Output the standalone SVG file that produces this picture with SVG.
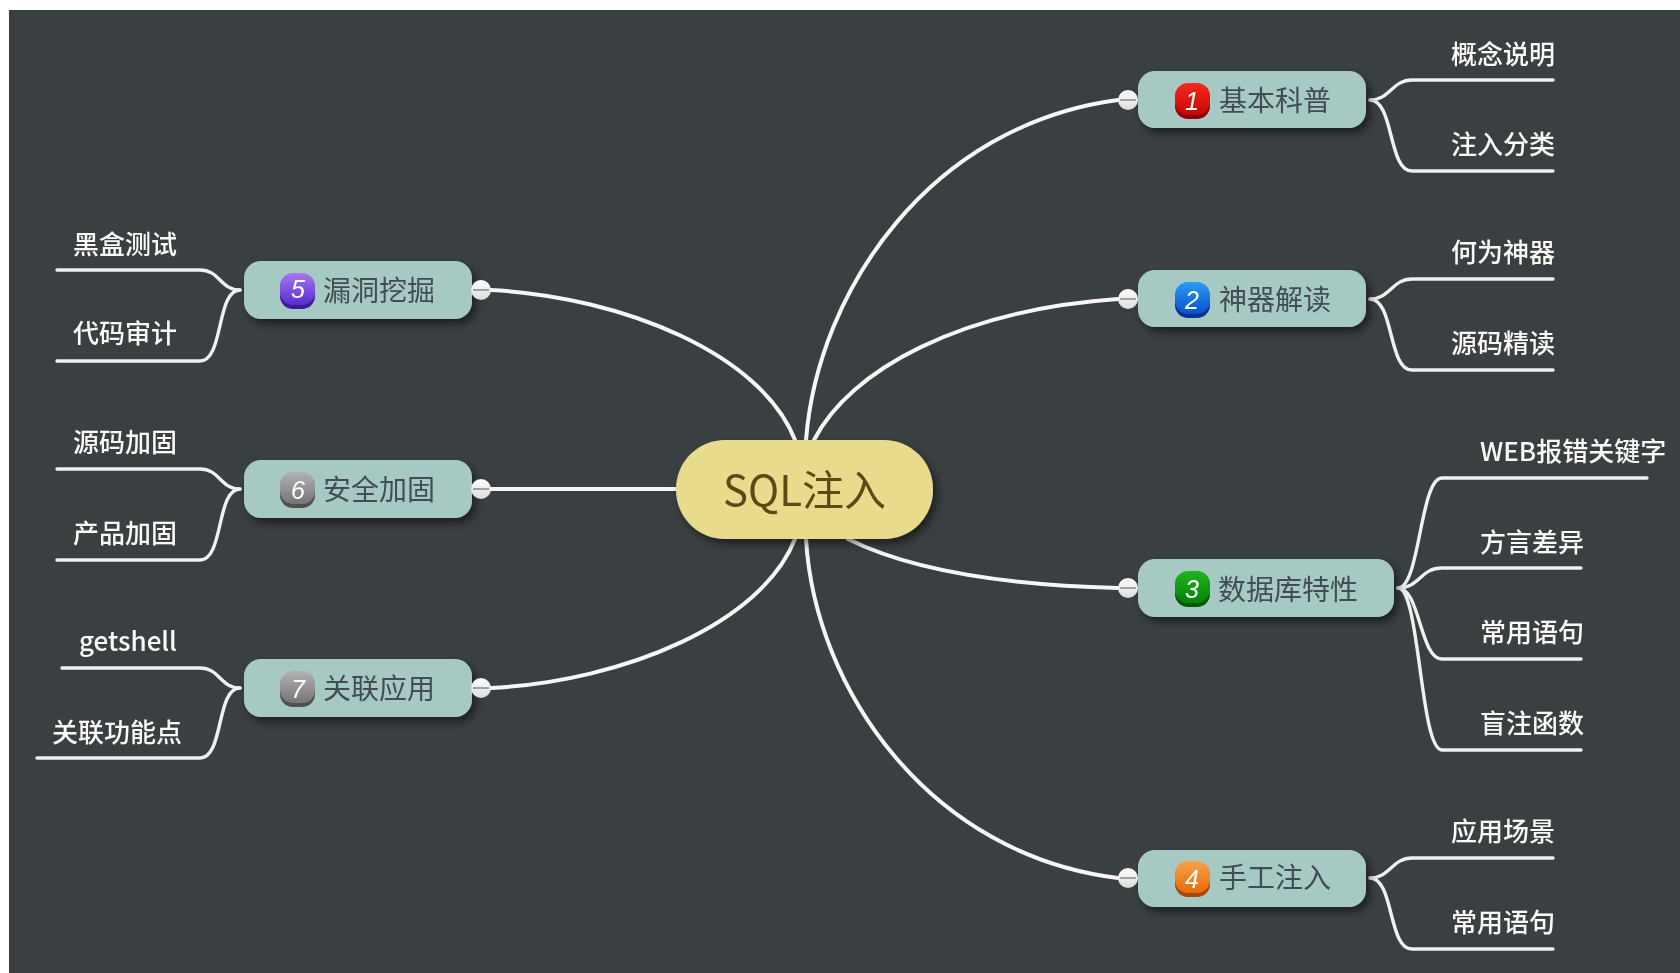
<svg xmlns="http://www.w3.org/2000/svg" width="1680" height="973" viewBox="0 0 1680 973">
<style>
text{font-family:"Noto Sans CJK SC","Noto Sans",sans-serif;filter:url(#soft)}
.bg{fill:#3a3f42}
.b{fill:none;stroke:#f6f6f6;stroke-width:4;stroke-linecap:round}
.c{fill:none;stroke:#f0f0f0;stroke-width:3.4;stroke-linecap:round}
.n{fill:#a6c9c4;filter:url(#sh)}
.r{fill:#e8dc8c;filter:url(#sh)}
.t{font-size:28px;fill:#424e52}
.rt{font-size:42px;fill:#5c4a18}
.l{font-size:26px;font-weight:500;fill:#fafaf6}
.d{font-family:"Liberation Sans",sans-serif;font-size:25px;font-style:italic;fill:#fff;text-anchor:middle}
.k{fill:url(#kb)}
.km{stroke:#8f8f8f;stroke-width:1.6}
</style>
<defs>
<filter id="soft" x="-5%" y="-10%" width="110%" height="120%"><feGaussianBlur stdDeviation=".35"/></filter>
<filter id="sh" x="-20%" y="-30%" width="140%" height="170%"><feDropShadow dx="4" dy="5" stdDeviation="4" flood-color="#000" flood-opacity=".5"/></filter>
<linearGradient id="kb" x1="0" y1="0" x2="0" y2="1"><stop offset="0" stop-color="#fff"/><stop offset="1" stop-color="#dcdcdc"/></linearGradient>
<linearGradient id="i1" x1="0" y1="0" x2="0" y2="1"><stop offset="0" stop-color="#f42a20"/><stop offset="1" stop-color="#c80404"/></linearGradient>
<linearGradient id="i2" x1="0" y1="0" x2="0" y2="1"><stop offset="0" stop-color="#2b9cf4"/><stop offset="1" stop-color="#0a4fd0"/></linearGradient>
<linearGradient id="i3" x1="0" y1="0" x2="0" y2="1"><stop offset="0" stop-color="#1db51d"/><stop offset="1" stop-color="#068206"/></linearGradient>
<linearGradient id="i4" x1="0" y1="0" x2="0" y2="1"><stop offset="0" stop-color="#f9a24a"/><stop offset="1" stop-color="#e66a0a"/></linearGradient>
<linearGradient id="i5" x1="0" y1="0" x2="0" y2="1"><stop offset="0" stop-color="#a678f2"/><stop offset="1" stop-color="#5a2cd0"/></linearGradient>
<linearGradient id="i6" x1="0" y1="0" x2="0" y2="1"><stop offset="0" stop-color="#b4b0b4"/><stop offset="1" stop-color="#767676"/></linearGradient>
</defs>
<rect width="1680" height="973" fill="#fff"/>
<rect class="bg" x="9" y="10" width="1671" height="963"/>
<g id="connectors">
<path class="b" d="M806,440C818,290 930,125 1118,100"/>
<path class="b" d="M814,440C850,370 960,310 1118,299"/>
<path class="b" d="M848,539C910,570 1000,585 1118,588"/>
<path class="b" d="M806,539C815,690 930,855 1118,878"/>
<path class="b" d="M795,440C762,355 625,297 491,290"/>
<path class="b" d="M676,489H491"/>
<path class="b" d="M795,539C762,623 625,681 491,688"/>
<path class="c" d="M1370,100C1390,100 1392,80 1412,80H1553"/>
<path class="c" d="M1370,100C1394,100 1388,171 1412,171H1553"/>
<path class="c" d="M1370,299C1390,299 1392,279 1412,279H1553"/>
<path class="c" d="M1370,299C1394,299 1388,370 1412,370H1553"/>
<path class="c" d="M1398,588C1420,588 1420,478 1442,478H1647"/>
<path class="c" d="M1398,588C1420,588 1420,568 1442,568H1581"/>
<path class="c" d="M1398,588C1420,588 1420,659 1442,659H1581"/>
<path class="c" d="M1398,588C1420,588 1420,750 1442,750H1581"/>
<path class="c" d="M1370,878C1390,878 1392,858 1412,858H1553"/>
<path class="c" d="M1370,878C1394,878 1388,949 1412,949H1553"/>
<path class="c" d="M240,290C220,290 220,270 200,270H57"/>
<path class="c" d="M240,290C216,290 224,361 200,361H57"/>
<path class="c" d="M240,489C220,489 220,469 200,469H57"/>
<path class="c" d="M240,489C216,489 224,560 200,560H57"/>
<path class="c" d="M240,688C220,688 220,668 200,668H62"/>
<path class="c" d="M240,688C216,688 224,758 200,758H37"/>
</g>
<g id="root"><rect class="r" x="676" y="440" width="257" height="99" rx="49"/><text class="rt" x="723" y="506">SQL注入</text></g>
<g id="n1"><rect class="n" x="1138" y="71" width="228" height="57" rx="17"/><circle class="k" cx="1128" cy="100" r="10"/><path class="km" d="M1120,100H1136"/><rect x="1175" y="85" width="35" height="34" rx="13" fill="#8a0410"/><rect x="1175" y="83" width="35" height="32" rx="13" fill="url(#i1)"/><text class="d" x="1192" y="110">1</text><text class="t" x="1219" y="111">基本科普</text></g>
<g id="n2"><rect class="n" x="1138" y="270" width="228" height="57" rx="17"/><circle class="k" cx="1128" cy="299" r="10"/><path class="km" d="M1120,299H1136"/><rect x="1175" y="284" width="35" height="34" rx="13" fill="#0a3090"/><rect x="1175" y="282" width="35" height="32" rx="13" fill="url(#i2)"/><text class="d" x="1192" y="309">2</text><text class="t" x="1219" y="310">神器解读</text></g>
<g id="n3"><rect class="n" x="1138" y="559" width="256" height="58" rx="17"/><circle class="k" cx="1128" cy="588" r="10"/><path class="km" d="M1120,588H1136"/><rect x="1175" y="573" width="35" height="34" rx="13" fill="#045a04"/><rect x="1175" y="571" width="35" height="32" rx="13" fill="url(#i3)"/><text class="d" x="1192" y="598">3</text><text class="t" x="1218" y="600">数据库特性</text></g>
<g id="n4"><rect class="n" x="1138" y="850" width="228" height="57" rx="17"/><circle class="k" cx="1128" cy="878" r="10"/><path class="km" d="M1120,878H1136"/><rect x="1175" y="863" width="35" height="34" rx="13" fill="#a84808"/><rect x="1175" y="861" width="35" height="32" rx="13" fill="url(#i4)"/><text class="d" x="1192" y="888">4</text><text class="t" x="1219" y="888">手工注入</text></g>
<g id="n5"><rect class="n" x="244" y="261" width="228" height="58" rx="17"/><circle class="k" cx="481" cy="290" r="10"/><path class="km" d="M473,290H489"/><rect x="280" y="275" width="35" height="34" rx="13" fill="#3c1a98"/><rect x="280" y="273" width="35" height="32" rx="13" fill="url(#i5)"/><text class="d" x="298" y="298">5</text><text class="t" x="323" y="301">漏洞挖掘</text></g>
<g id="n6"><rect class="n" x="244" y="460" width="228" height="58" rx="17"/><circle class="k" cx="481" cy="489" r="10"/><path class="km" d="M473,489H489"/><rect x="280" y="474" width="35" height="34" rx="13" fill="#505050"/><rect x="280" y="472" width="35" height="32" rx="13" fill="url(#i6)"/><text class="d" x="298" y="499">6</text><text class="t" x="323" y="500">安全加固</text></g>
<g id="n7"><rect class="n" x="244" y="659" width="228" height="58" rx="17"/><circle class="k" cx="481" cy="688" r="10"/><path class="km" d="M473,688H489"/><rect x="280" y="673" width="35" height="34" rx="13" fill="#505050"/><rect x="280" y="671" width="35" height="32" rx="13" fill="url(#i6)"/><text class="d" x="298" y="698">7</text><text class="t" x="323" y="699">关联应用</text></g>
<g id="l1a"><text class="l" x="1451" y="64">概念说明</text></g>
<g id="l1b"><text class="l" x="1451" y="154">注入分类</text></g>
<g id="l2a"><text class="l" x="1451" y="262">何为神器</text></g>
<g id="l2b"><text class="l" x="1451" y="353">源码精读</text></g>
<g id="l3a"><text class="l" x="1480" y="461">WEB报错关键字</text></g>
<g id="l3b"><text class="l" x="1480" y="552">方言差异</text></g>
<g id="l3c"><text class="l" x="1480" y="642">常用语句</text></g>
<g id="l3d"><text class="l" x="1480" y="733">盲注函数</text></g>
<g id="l4a"><text class="l" x="1451" y="841">应用场景</text></g>
<g id="l4b"><text class="l" x="1451" y="932">常用语句</text></g>
<g id="l5a"><text class="l" x="73" y="254">黑盒测试</text></g>
<g id="l5b"><text class="l" x="73" y="343">代码审计</text></g>
<g id="l6a"><text class="l" x="73" y="452">源码加固</text></g>
<g id="l6b"><text class="l" x="73" y="543">产品加固</text></g>
<g id="l7a"><text class="l" x="79" y="651">getshell</text></g>
<g id="l7b"><text class="l" x="52" y="742">关联功能点</text></g>
</svg>
